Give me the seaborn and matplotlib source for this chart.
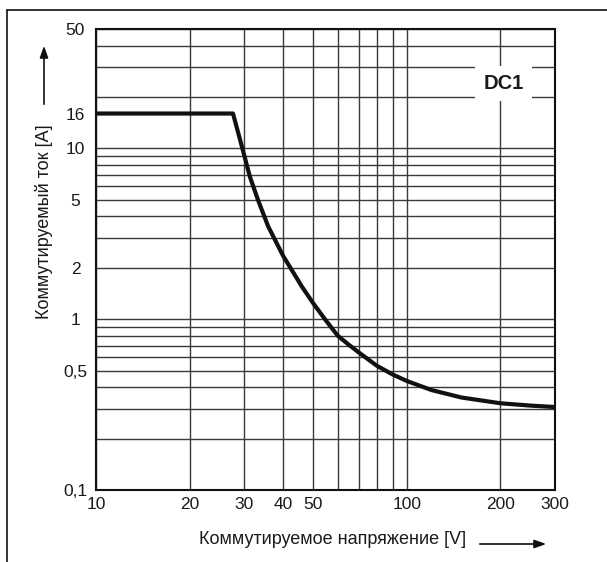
import matplotlib as mpl
import matplotlib.pyplot as plt
import numpy as np
import pandas as pd
import seaborn as sns
from matplotlib.lines import Line2D

# curve (voltage V, current A)
voltage = [10, 27.6, 29.5, 31.3, 33.2, 35.8, 40, 46, 50, 55, 60, 65, 70, 80, 90, 100,
           120, 150, 200, 250, 300]
current = [16, 16, 10.2, 6.8, 5.0, 3.5, 2.35, 1.55, 1.24, 0.98, 0.8, 0.71, 0.64, 0.535,
           0.475, 0.435, 0.385, 0.348, 0.322, 0.312, 0.306]

x_ticks = [10, 20, 30, 40, 50, 100, 200, 300]
x_ticklabels = ['10', '20', '30', '40', '50', '100', '200', '300']
x_grid = [10, 20, 30, 40, 50, 60, 70, 80, 90, 100, 200, 300]

y_ticks = [0.1, 0.5, 1, 2, 5, 10, 16, 50]
y_ticklabels = ['0,1', '0,5', '1', '2', '5', '10', '16', '50']
y_grid = [0.1, 0.2, 0.3, 0.4, 0.5, 0.6, 0.7, 0.8, 0.9,
          1, 2, 3, 4, 5, 6, 7, 8, 9, 10, 20, 30, 40, 50]

xlabel = 'Коммутируемое напряжение [V]'
ylabel = 'Коммутируемый ток [A]'
tag = 'DC1'

sns.set_style("white")
plt.rcParams['font.family'] = ['Liberation Sans', 'DejaVu Sans']

W, H = 607, 562
fig = plt.figure(figsize=(W / 100, H / 100), dpi=100)
ax = fig.add_axes([96 / W, 1 - 490 / H, (555 - 96) / W, (490 - 29) / H])

df = pd.DataFrame({'U': voltage, 'I': current})
sns.lineplot(data=df, x='U', y='I', sort=False, estimator=None,
             color='#111111', linewidth=3.0, ax=ax, zorder=5)
for ln in ax.lines:
    ln.set_solid_joinstyle('round')

ax.set_xscale('log')
ax.set_yscale('log')
ax.set_xlim(10, 300)
ax.set_ylim(0.1, 50)

ax.set_xticks(x_ticks)
ax.set_xticklabels(x_ticklabels)
ax.set_xticks(x_grid, minor=True)
ax.set_yticks(y_ticks)
ax.set_yticklabels(y_ticklabels)
ax.set_yticks(y_grid, minor=True)
ax.xaxis.remove_overlapping_locs = False
ax.yaxis.remove_overlapping_locs = False
ax.set_xticklabels([], minor=True)
ax.set_yticklabels([], minor=True)

ax.grid(False, which='major')
ax.grid(True, which='minor', color='#3a3a3a', linewidth=1.0)
ax.tick_params(which='both', length=0)
ax.tick_params(axis='x', pad=5, labelsize=12.5, colors='#1a1a1a')
ax.tick_params(axis='y', pad=14.8, labelsize=12.5, colors='#1a1a1a')
for lab in ax.get_yticklabels():
    lab.set_horizontalalignment('center')

for s in ax.spines.values():
    s.set_color('#111111')
    s.set_linewidth(1.5)
    s.set_zorder(6)

ax.set_xlabel('')
ax.set_ylabel('')

ax.text(205, 24, tag, ha='center', va='center', fontsize=14.5, fontweight='bold',
        color='#1a1a1a', zorder=7,
        bbox=dict(facecolor='white', edgecolor='none', boxstyle='square,pad=0.4'))

# axis titles with arrows
fig.text(333 / W, 1 - 540 / H, xlabel, ha='center', va='center', fontsize=13, color='#1a1a1a')
fig.text(44 / W, 1 - 222 / H, ylabel, ha='center', va='center', rotation=90,
         fontsize=13, color='#1a1a1a')
fig.add_artist(mpl.patches.FancyArrowPatch((477 / W, 1 - 544 / H), (549 / W, 1 - 544 / H),
               transform=fig.transFigure, arrowstyle='-|>,head_length=7,head_width=2.5',
               mutation_scale=1, color='#111111', linewidth=1.2))
fig.add_artist(mpl.patches.FancyArrowPatch((44 / W, 1 - 107 / H), (44 / W, 1 - 43 / H),
               transform=fig.transFigure, arrowstyle='-|>,head_length=7,head_width=2.5',
               mutation_scale=1, color='#111111', linewidth=1.2))

# outer frame (left and top edges)
fig.add_artist(Line2D([7 / W, 7 / W], [0, 1 - 10 / H], transform=fig.transFigure,
                      color='#111111', linewidth=1.2))
fig.add_artist(Line2D([7 / W, 1], [1 - 10 / H, 1 - 10 / H], transform=fig.transFigure,
                      color='#111111', linewidth=1.2))

fig.savefig('out.png', dpi=100)
plt.close(fig)
